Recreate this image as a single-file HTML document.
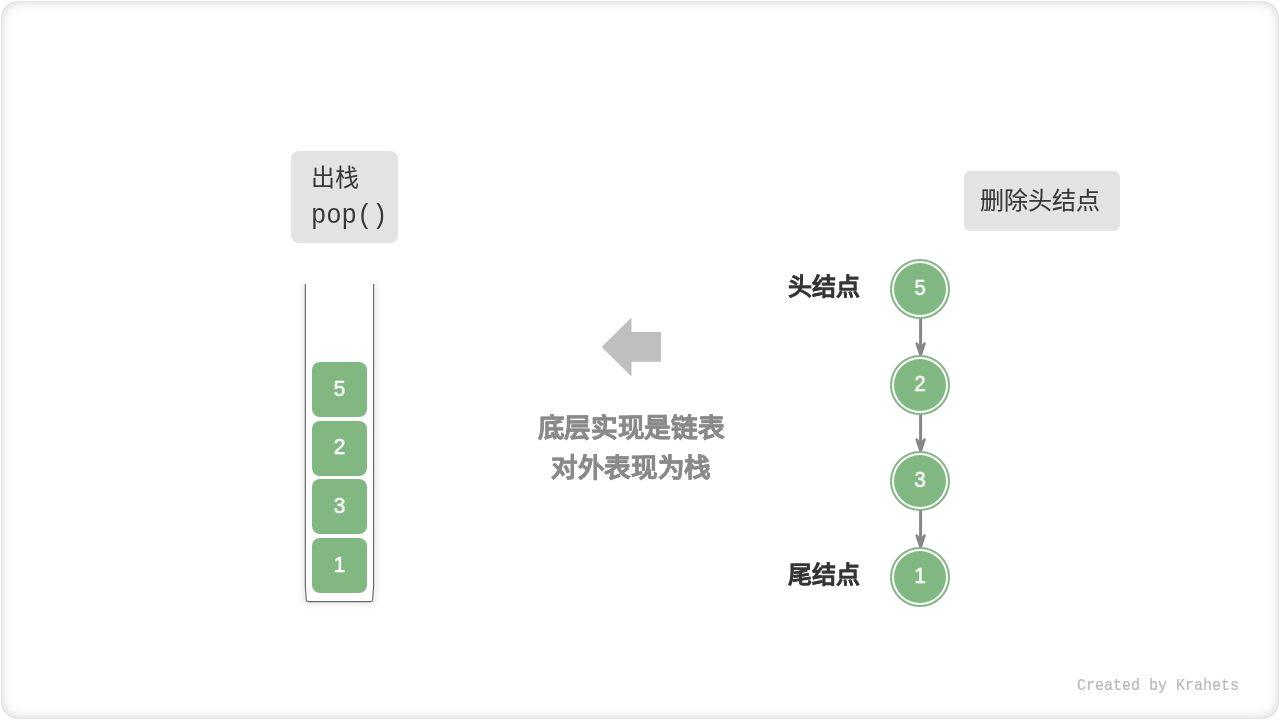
<!DOCTYPE html>
<html lang="zh-CN">
<head>
<meta charset="utf-8">
<style>
html,body{margin:0;padding:0;background:#fff;}
body{width:1280px;height:720px;position:relative;overflow:hidden;font-family:"Liberation Sans",sans-serif;}
.frame{position:absolute;left:1px;top:1px;width:1278px;height:718px;border-radius:17px;box-shadow:inset 0 0 12px rgba(0,0,0,0.20);background:#fff;}
.abs{position:absolute;}
.gbox{position:absolute;background:#e3e3e3;border-radius:8px;}
.txt{position:absolute;white-space:nowrap;line-height:1;will-change:transform;}
.sq{position:absolute;left:312px;width:55px;height:55.1px;background:#81b881;border-radius:8px;}
.sqn{position:absolute;left:312px;width:55px;text-align:center;color:#fff;font-size:22.5px;transform:scaleX(0.93);line-height:1;white-space:nowrap;-webkit-text-stroke:0.5px #fff;will-change:transform;}
.cn{position:absolute;left:890px;width:60px;text-align:center;color:#fff;font-size:22.5px;transform:scaleX(0.9);line-height:1;white-space:nowrap;-webkit-text-stroke:0.5px #fff;will-change:transform;}
</style>
</head>
<body>
<div class="frame"></div>

<!-- pop box -->
<div class="gbox" style="left:291px;top:151px;width:107px;height:92px;"></div>
<div class="txt" style="left:311px;top:166px;font-size:24px;color:#383838;">出栈</div>
<div class="txt" style="left:311px;top:202.8px;font-size:25.5px;color:#383838;font-family:'Liberation Mono',monospace;transform:scaleY(1.07);transform-origin:0 0;">pop()</div>

<svg class="abs" style="left:0;top:0" width="1280" height="720">
  <defs>
    <filter id="sh" x="-50%" y="-20%" width="200%" height="140%">
      <feGaussianBlur stdDeviation="3"/>
    </filter>
  </defs>
  <!-- stack container shadow -->
  <path d="M305.3 284 L305.3 586 L306.3 600 Q306.5 601.6 308.5 601.6 L370.5 601.6 Q372.5 601.6 372.6 600 L373.6 586 L373.6 284" fill="none" stroke="rgba(0,0,0,0.10)" stroke-width="5" filter="url(#sh)"/>
  <path d="M305.3 284 L305.3 586 L306.3 600 Q306.5 601.6 308.5 601.6 L370.5 601.6 Q372.5 601.6 372.6 600 L373.6 586 L373.6 284 Z" fill="#fff" stroke="none"/>
  <path d="M305.3 284 L305.3 586 L306.3 600 Q306.5 601.6 308.5 601.6 L370.5 601.6 Q372.5 601.6 372.6 600 L373.6 586 L373.6 284" fill="none" stroke="#666" stroke-width="1.15"/>
  <!-- big left arrow -->
  <polygon points="601.7,347 631.5,317.5 631.5,332 661,332 661,361.8 631.5,361.8 631.5,376.5" fill="#bfbfbf"/>
  <!-- linked list arrows -->
  <g stroke="#878787" fill="#878787" stroke-linecap="round" stroke-linejoin="round">
    <line x1="920.6" y1="318" x2="920.6" y2="350" stroke-width="3"/>
    <polygon points="916.6,343.5 920.6,355.3 924.6,343.5 920.6,348" stroke-width="2.4"/>
    <line x1="920.6" y1="414" x2="920.6" y2="446" stroke-width="3"/>
    <polygon points="916.6,439.5 920.6,451.3 924.6,439.5 920.6,444" stroke-width="2.4"/>
    <line x1="920.6" y1="510" x2="920.6" y2="542" stroke-width="3"/>
    <polygon points="916.6,535.5 920.6,547.3 924.6,535.5 920.6,540" stroke-width="2.4"/>
  </g>
  <!-- circles -->
  <g>
    <circle cx="920" cy="289" r="29" fill="#fff" stroke="#81b881" stroke-width="2"/>
    <circle cx="920" cy="289" r="26" fill="#81b881"/>
    <circle cx="920" cy="385" r="29" fill="#fff" stroke="#81b881" stroke-width="2"/>
    <circle cx="920" cy="385" r="26" fill="#81b881"/>
    <circle cx="920" cy="481" r="29" fill="#fff" stroke="#81b881" stroke-width="2"/>
    <circle cx="920" cy="481" r="26" fill="#81b881"/>
    <circle cx="920" cy="577" r="29" fill="#fff" stroke="#81b881" stroke-width="2"/>
    <circle cx="920" cy="577" r="26" fill="#81b881"/>
  </g>
</svg>

<div class="sq" style="top:362px;"></div>
<div class="sq" style="top:420.7px;"></div>
<div class="sq" style="top:479.3px;"></div>
<div class="sq" style="top:538px;"></div>
<div class="sqn" style="top:377.7px;">5</div>
<div class="sqn" style="top:436.4px;">2</div>
<div class="sqn" style="top:495px;">3</div>
<div class="sqn" style="top:553.7px;">1</div>

<div class="txt" style="left:481px;top:408px;width:300px;text-align:center;font-size:26.6px;letter-spacing:-0.3px;line-height:40px;font-weight:bold;color:#8a8a8a;-webkit-text-stroke:0.5px #8a8a8a;">底层实现是链表<br>对外表现为栈</div>

<div class="gbox" style="left:964px;top:171px;width:156px;height:60px;border-radius:6px;"></div>
<div class="txt" style="left:980px;top:188.8px;font-size:24px;color:#383838;-webkit-text-stroke:0.15px #383838;">删除头结点</div>

<div class="txt" style="left:788px;top:275.2px;font-size:24px;font-weight:bold;color:#363636;-webkit-text-stroke:0.25px #363636;">头结点</div>
<div class="txt" style="left:788px;top:563.2px;font-size:24px;font-weight:bold;color:#363636;-webkit-text-stroke:0.25px #363636;">尾结点</div>

<div class="cn" style="top:276.6px;">5</div>
<div class="cn" style="top:372.6px;">2</div>
<div class="cn" style="top:468.6px;">3</div>
<div class="cn" style="top:564.6px;">1</div>

<div class="txt" style="left:1077px;top:676.8px;font-family:'Liberation Mono',monospace;font-size:15px;color:#b8b8b8;transform:scaleY(1.14);transform-origin:0 0;-webkit-text-stroke:0.2px #b8b8b8;">Created by Krahets</div>
</body>
</html>
